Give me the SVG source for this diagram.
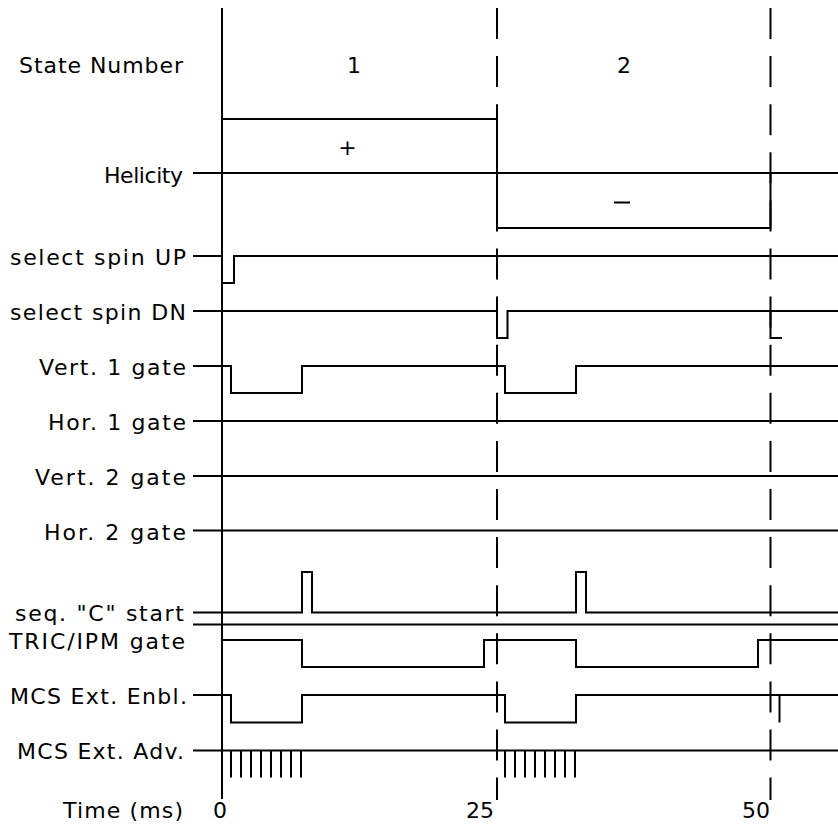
<svg xmlns="http://www.w3.org/2000/svg" width="838" height="826" viewBox="0 0 838 826">
<style>
  .ln { fill: none; stroke: #000; stroke-width: 2; stroke-linecap: butt; stroke-linejoin: miter; }
  .dash { fill: none; stroke: #000; stroke-width: 2; stroke-dasharray: 31 17.1; }
  .lbl { font-family: "DejaVu Sans", "Liberation Sans", sans-serif; font-size: 22px; fill: #000; text-anchor: end; }
  .mid { font-family: "DejaVu Sans", "Liberation Sans", sans-serif; font-size: 22px; fill: #000; text-anchor: middle; }
</style>
<rect width="838" height="826" fill="#fff"/>

<g id="time-markers">
  <line class="ln" x1="222" y1="8" x2="222" y2="799"/>
  <line class="dash" x1="497" y1="8" x2="497" y2="800"/>
  <line class="dash" x1="770.5" y1="8" x2="770.5" y2="800"/>
</g>

<g id="state-number">
  <text class="lbl" x="183" y="73" textLength="164">State Number</text>
  <text class="mid" x="354" y="73">1</text>
  <text class="mid" x="624" y="73">2</text>
</g>

<g id="helicity">
  <text class="lbl" x="183" y="182.5" textLength="79">Helicity</text>
  <line class="ln" x1="193" y1="173" x2="838" y2="173"/>
  <polyline class="ln" points="222,173 222,119 497,119 497,228 770.5,228 770.5,173"/>
  <text class="mid" x="347.5" y="155">+</text>
  <line class="ln" x1="614" y1="202.5" x2="630" y2="202.5"/>
</g>

<g id="spin-up">
  <text class="lbl" x="186" y="265" textLength="176">select spin UP</text>
  <polyline class="ln" points="193,256 222,256 222,283 234,283 234,256 838,256"/>
</g>

<g id="spin-dn">
  <text class="lbl" x="186" y="320" textLength="176">select spin DN</text>
  <polyline class="ln" points="193,311 497,311 497,338 507.5,338 507.5,311 770.5,311 838,311"/>
  <polyline class="ln" points="770.5,311 770.5,338 782,338"/>
</g>

<g id="vert1">
  <text class="lbl" x="186" y="375" textLength="147">Vert. 1 gate</text>
  <polyline class="ln" points="193,366 231,366 231,393 302,393 302,366 505,366 505,393 576,393 576,366 838,366"/>
</g>

<g id="hor1">
  <text class="lbl" x="186" y="430" textLength="138">Hor. 1 gate</text>
  <line class="ln" x1="193" y1="421" x2="838" y2="421"/>
</g>

<g id="vert2">
  <text class="lbl" x="186" y="485" textLength="151">Vert. 2 gate</text>
  <line class="ln" x1="193" y1="476" x2="838" y2="476"/>
</g>

<g id="hor2">
  <text class="lbl" x="186" y="539.5" textLength="142">Hor. 2 gate</text>
  <line class="ln" x1="193" y1="530.5" x2="838" y2="530.5" stroke-width="2.5"/>
</g>

<g id="seq-c">
  <text class="lbl" x="184" y="621" textLength="169">seq. "C" start</text>
  <polyline class="ln" points="193,612.5 302,612.5 302,572 312,572 312,612.5 576,612.5 576,572 586,572 586,612.5 838,612.5"/>
  <line class="ln" x1="193" y1="624.5" x2="838" y2="624.5"/>
</g>

<g id="tric">
  <text class="lbl" x="185" y="649" textLength="176">TRIC/IPM gate</text>
  <polyline class="ln" points="222,640 302,640 302,667 484,667 484,640 576,640 576,667 758,667 758,640 838,640"/>
</g>

<g id="mcs-enbl">
  <text class="lbl" x="187" y="704" textLength="177">MCS Ext. Enbl.</text>
  <polyline class="ln" points="193,695 231,695 231,722.5 302,722.5 302,695 505,695 505,722.5 576,722.5 576,695 838,695"/>
  <line class="ln" x1="779.5" y1="695" x2="779.5" y2="722.5"/>
</g>

<g id="mcs-adv">
  <text class="lbl" x="184" y="759" textLength="167">MCS Ext. Adv.</text>
  <line class="ln" x1="193" y1="750.5" x2="838" y2="750.5"/>
  <path class="ln" d="M231,750.5V777.5M241,750.5V777.5M251,750.5V777.5M261,750.5V777.5M271,750.5V777.5M281,750.5V777.5M291,750.5V777.5M301,750.5V777.5"/>
  <path class="ln" d="M505,750.5V777.5M515,750.5V777.5M525,750.5V777.5M535,750.5V777.5M545,750.5V777.5M555,750.5V777.5M565,750.5V777.5M575,750.5V777.5"/>
</g>

<g id="time-axis">
  <text class="lbl" x="183" y="818" textLength="120">Time (ms)</text>
  <text class="lbl" x="227" y="818">0</text>
  <text class="lbl" x="494" y="818">25</text>
  <text class="lbl" x="770" y="818">50</text>
</g>
</svg>
